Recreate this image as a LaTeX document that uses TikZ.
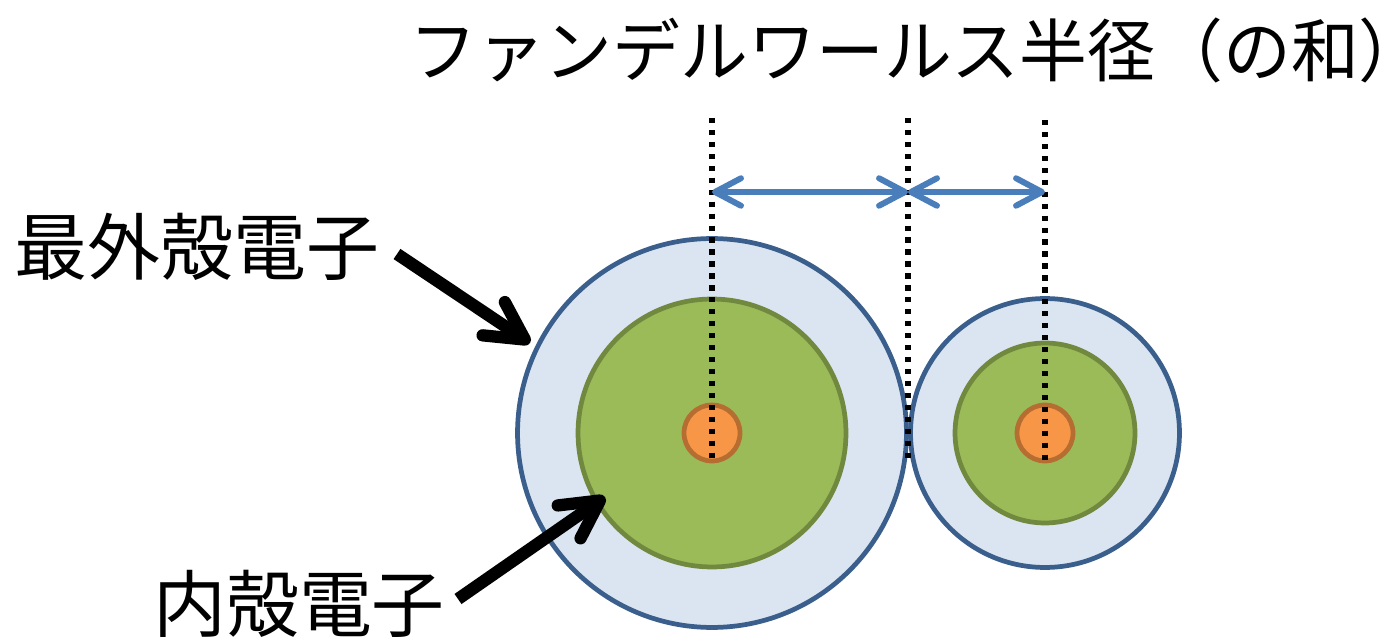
\documentclass[tikz,border=0pt]{standalone}
\usepackage{fontspec}
\newfontfamily\jpfont{Noto Sans CJK JP}
\usetikzlibrary{arrows.meta}

\definecolor{shellfill}{HTML}{DBE5F1}
\definecolor{shelldraw}{HTML}{3A5F8C}
\definecolor{corefill}{HTML}{9BBB59}
\definecolor{coredraw}{HTML}{71893F}
\definecolor{nucfill}{HTML}{F79646}
\definecolor{nucdraw}{HTML}{B66D31}
\definecolor{spanblue}{HTML}{4A7EBB}

\begin{document}
\begin{tikzpicture}[x=0.02cm,y=-0.02cm,
    outershell/.style={circle,draw=shelldraw,fill=shellfill,line width=2.7pt,inner sep=0pt},
    innershell/.style={circle,draw=coredraw,fill=corefill,line width=2.7pt,inner sep=0pt},
    nucleus/.style={circle,draw=nucdraw,fill=nucfill,line width=2.7pt,inner sep=0pt,minimum size=1.12cm},
    guide/.style={line width=3pt,dash pattern=on 3pt off 3.8pt},
    span/.style={spanblue,line width=3.4pt,{Straight Barb[length=0.52cm,width=0.55cm,round]}-{Straight Barb[length=0.52cm,width=0.55cm,round]}},
    pointer/.style={line width=7pt,-{Straight Barb[length=0.75cm,width=0.8cm,round]}},
    tag/.style={font=\jpfont\fontsize{41.5pt}{41.5pt}\selectfont,inner sep=0pt},
    title/.style={font=\jpfont\fontsize{39pt}{39pt}\selectfont,inner sep=0pt}]
    \useasboundingbox (0,0) rectangle (1393,641);

    % Atoms
    \node[outershell,minimum size=7.78cm] (shellA) at (712,433) {};
    \node[innershell,minimum size=5.36cm] (coreA) at (712,433) {};
    \node[nucleus] (nucA) at (712,433) {};
    \node[outershell,minimum size=5.38cm] (shellB) at (1045,433) {};
    \node[innershell,minimum size=3.6cm] (coreB) at (1045,433) {};
    \node[nucleus] (nucB) at (1045,433) {};

    % Guide lines
    \coordinate (topA) at (712,118);
    \coordinate (topM) at (908,118);
    \coordinate (topB) at (1045,120);
    \coordinate (botM) at (908,463);
    \draw[guide] (topA) -- (nucA.south);
    \draw[guide] (topM) -- (botM);
    \draw[guide] (topB) -- (nucB.south);

    % Radii
    \coordinate (dimA) at (712,192);
    \coordinate (dimM) at (908,192);
    \coordinate (dimB) at (1045,192);
    \draw[span] (dimA) -- (dimM);
    \draw[span] (dimM) -- (dimB);

    % Labels
    \node[title] (head) at (901,50) {\scalebox{0.99}[1]{ファンデルワールス半径（の和）\kern-0.5em}};
    \node[tag] (lblOuter) at (197,247) {最外殻電子};
    \node[tag] (lblInner) at (299,604) {内殻電子};

    % Pointers
    \coordinate (tailOuter) at (397,254);
    \coordinate (tipOuter) at (530,343);
    \coordinate (tailInner) at (458,599);
    \coordinate (tipInner) at (605,497);
    \draw[pointer] (tailOuter) -- (tipOuter);
    \draw[pointer] (tailInner) -- (tipInner);
\end{tikzpicture}
\end{document}
